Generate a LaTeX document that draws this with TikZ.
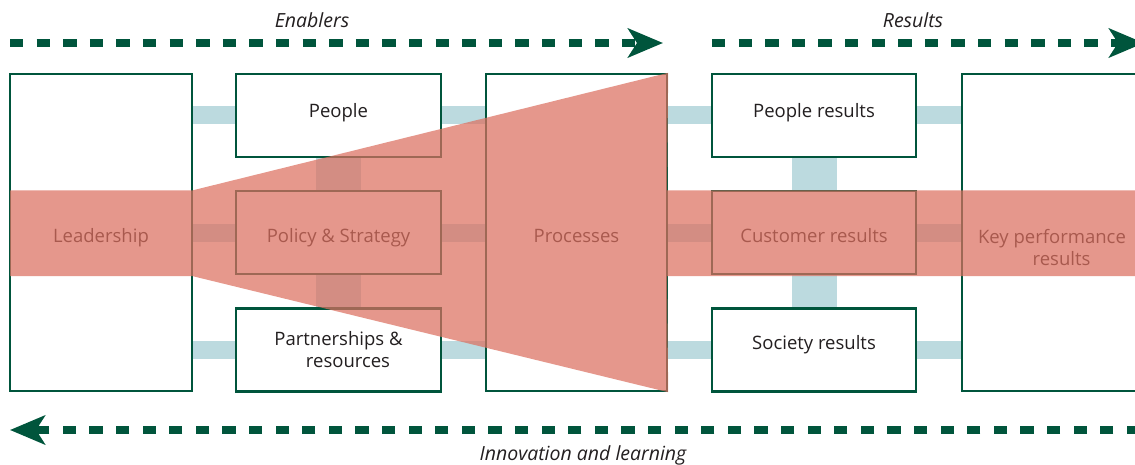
\documentclass[tikz,border=0pt]{standalone}
\usepackage{fontspec}
\setmainfont{Open Sans}
\usetikzlibrary{arrows.meta,positioning}
\definecolor{efqmgreen}{RGB}{0,85,60}
\definecolor{linkblue}{RGB}{188,218,223}
\definecolor{salmon}{RGB}{220,112,96}
\definecolor{txtgrey}{RGB}{35,31,32}
\pgfdeclarelayer{bg}
\pgfsetlayers{bg,main}

\begin{document}
\begin{tikzpicture}[x=1pt,y=1pt,node distance=117.25pt,
                    box/.style={draw=efqmgreen,line width=2.4pt,fill=white,
                                minimum width=205pt,minimum height=83pt,inner sep=0pt},
                    tall box/.style={box,minimum width=182pt,minimum height=317pt},
                    lbl/.style={font=\fontsize{18.5}{22}\selectfont,text=txtgrey,align=center},
                    tag/.style={font=\fontsize{19.5}{23}\selectfont\itshape,text=txtgrey},
                    link/.style={draw=linkblue,line width=18pt},
                    vlink/.style={draw=linkblue,line width=45pt},
                    flow/.style={draw=efqmgreen,line width=8pt,dash pattern=on 13.3pt off 13.3pt,
                                 -{Stealth[length=35pt,width=29pt,inset=9pt]}}]
        \useasboundingbox (0,0) rectangle (1135,-465);

        % Define boxes
        \node[tall box] (lead) at (101,-232.5) {};
        \node[box] (people) at (338.5,-115.5) {};
        \node[box] (policy) [below of=people] {};
        \node[box] (partner) [below of=policy] {};
        \node[tall box,minimum width=181pt] (proc) at (576.5,-232.5) {};
        \node[box,minimum width=204pt] (presults) at (814,-115.5) {};
        \node[box,minimum width=204pt] (cresults) [below of=presults] {};
        \node[box,minimum width=204pt] (sresults) [below of=cresults] {};
        \node[tall box] (kpr) at (1053,-232.5) {};

        % Box texts
        \node[lbl,anchor=base] (lead-t) at (101,-243) {Leadership};
        \node[lbl,anchor=base] (people-t) at (338.5,-118) {People};
        \node[lbl,anchor=base] (policy-t) at (338.5,-243) {Policy \& Strategy};
        \node[lbl] (partner-t) at (338.5,-350) {Partnerships \&\\\hspace*{19pt}resources};
        \node[lbl,anchor=base] (proc-t) at (576.5,-243) {Processes};
        \node[lbl,anchor=base] (presults-t) at (814,-118) {People results};
        \node[lbl,anchor=base] (cresults-t) at (814,-243) {Customer results};
        \node[lbl,anchor=base] (sresults-t) at (814,-349) {Society results};
        \node[lbl] (kpr-t) at (1052,-248) {Key performance\\\hspace*{19pt}results};

        % Draw links
        \begin{pgfonlayer}{bg}
        \path[link]
            (lead.east |- people) edge (people.west)
            (people.east) edge (proc.west |- people)
            (proc.east |- presults) edge (presults.west)
            (presults.east) edge (kpr.west |- presults)
            (lead.east |- policy) edge (policy.west)
            (policy.east) edge (proc.west |- policy)
            (proc.east |- cresults) edge (cresults.west)
            (cresults.east) edge (kpr.west |- cresults)
            (lead.east |- partner) edge (partner.west)
            (partner.east) edge (proc.west |- partner)
            (proc.east |- sresults) edge (sresults.west)
            (sresults.east) edge (kpr.west |- sresults);
        \path[vlink]
            (people.south) edge (policy.north)
            (policy.south) edge (partner.north)
            (presults.south) edge (cresults.north)
            (cresults.south) edge (sresults.north);
        \end{pgfonlayer}

        % Overlay
        \fill[salmon,opacity=0.72] (10,-190.5) -- (192,-190.5) -- (proc.north east)
            -- (667,-190.5) -- (1145,-190.5) -- (1145,-276) -- (667,-276)
            -- (proc.south east) -- (192,-276) -- (10,-276) -- cycle;

        % Flow arrows
        \coordinate (en-a) at (10,-43);
        \coordinate (en-b) at (663,-43);
        \coordinate (re-a) at (712,-43);
        \coordinate (re-b) at (1144,-43);
        \coordinate (in-a) at (1140,-430);
        \coordinate (in-b) at (10,-430);
        \draw[flow] (en-a) -- (en-b);
        \draw[flow] (re-a) -- (re-b);
        \draw[flow] (in-a) -- (in-b);
        \node[tag] (en-t) at (312,-20) {Enablers};
        \node[tag] (re-t) at (913,-20) {Results};
        \node[tag] (in-t) at (583,-455) {Innovation and learning};
\end{tikzpicture}
\end{document}
